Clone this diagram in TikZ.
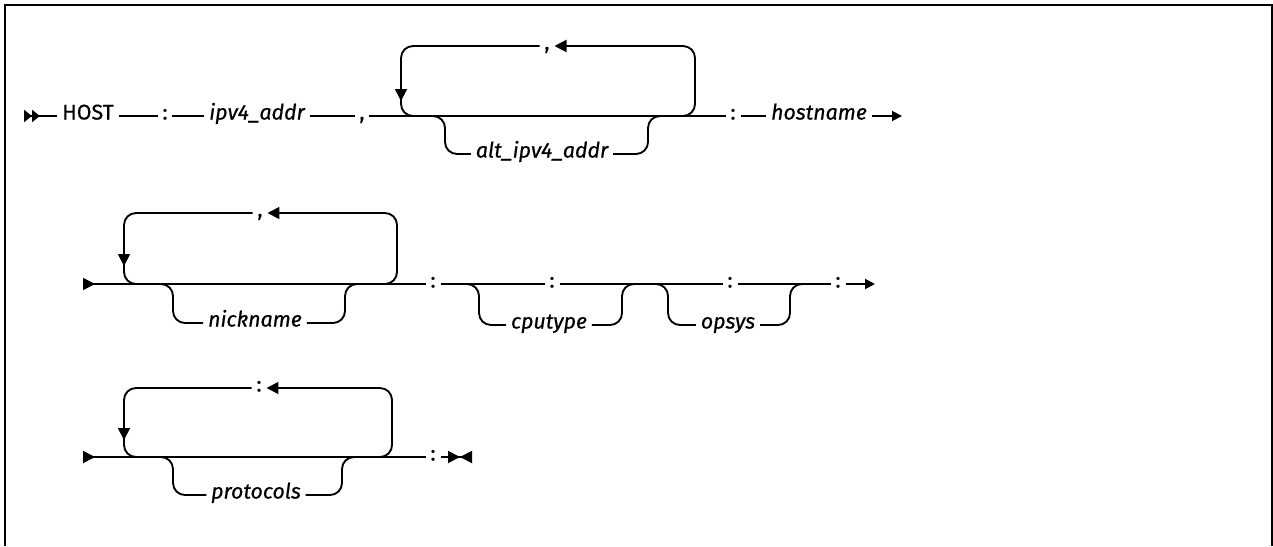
\documentclass[tikz,border=0pt]{standalone}
\usepackage{fontspec}
\setmainfont{Fira Sans}[FakeBold=0.6]
\usetikzlibrary{arrows.meta}

\tikzset{
  rail/.style={line width=1.4pt},
  railtip/.style={-{Triangle[length=9pt,width=9pt]}},
  endtip/.style={-{Triangle[length=7.5pt,width=7.5pt]}},
  lit/.style={anchor=mid, inner xsep=3.5pt, inner ysep=0pt, font=\fontsize{16}{19}\selectfont},
  var/.style={lit, font=\fontsize{16}{19}\selectfont\itshape},
}

\begin{document}
\begin{tikzpicture}[x=0.75pt,y=-0.75pt]
\useasboundingbox (0,0) rectangle (1273,546);
\draw[line width=1.9pt] (5,546) -- (5,5) -- (1272,5) -- (1272,546);

\coordinate (s1) at (24,116);
\node[lit] (host) at (88,116) {HOST};
\node[lit] (c1) at (165,116) {:};
\node[var] (ip) at (257,116) {ipv4\_addr};
\node[lit] (k1) at (362,116) {,};
\node[lit] (k2) at (547,46) {,};
\node[var] (alt) at (542,154) {alt\_ipv4\_addr};
\node[lit] (c2) at (733,116) {:};
\node[var] (hn) at (819,116) {hostname};
\coordinate (e1) at (902,116);

\draw[rail,{Triangle[reversed,length=6pt,width=9pt]Triangle[reversed,length=6pt,width=9pt]}-] (s1) -- (host.mid west);
\draw[rail] (host.mid east) -- (c1.mid west);
\draw[rail] (c1.mid east) -- (ip.mid west);
\draw[rail] (ip.mid east) -- (k1.mid west);
\draw[rail] (k1.mid east) -- (c2.mid west);
\draw[rail,rounded corners=9pt,railtip] (678,116) -| (695,46) -- (k2.mid east);
\draw[rail,rounded corners=9pt,railtip] (k2.mid west) -| (401,101);
\draw[rail,rounded corners=9pt] (401,90) |- (420,116);
\draw[rail,rounded corners=9pt] (430,116) -| (445,154) -- (alt.mid west);
\draw[rail,rounded corners=9pt] (alt.mid east) -| (648,116) -- (663,116);
\draw[rail] (c2.mid east) -- (hn.mid west);
\draw[rail,endtip] (hn.mid east) -- (e1);

\coordinate (s2) at (83,284);
\node[lit] (k3) at (260,213) {,};
\node[var] (nick) at (255,323) {nickname};
\node[lit] (c3) at (433,284) {:};
\node[lit] (c4) at (552,284) {:};
\node[var] (cpu) at (549,325) {cputype};
\node[lit] (c5) at (730,284) {:};
\node[var] (os) at (728,325) {opsys};
\node[lit] (c6) at (838,284) {:};
\coordinate (e2) at (875,284);

\draw[rail,{Triangle[reversed,length=9pt,width=9pt]}-] (s2) -- (c3.mid west);
\draw[rail,rounded corners=9pt,railtip] (383,284) -| (397,213) -- (k3.mid east);
\draw[rail,rounded corners=9pt,railtip] (k3.mid west) -| (124,266);
\draw[rail,rounded corners=9pt] (124,255) |- (142,284);
\draw[rail,rounded corners=9pt] (158,284) -| (173,323) -- (nick.mid west);
\draw[rail,rounded corners=9pt] (nick.mid east) -| (345,284) -- (360,284);
\draw[rail] (c3.mid east) -- (c4.mid west);
\draw[rail] (c4.mid east) -- (c5.mid west);
\draw[rail,rounded corners=9pt] (465,284) -| (479,325) -- (cpu.mid west);
\draw[rail,rounded corners=9pt] (cpu.mid east) -| (622,284) -- (637,284);
\draw[rail,rounded corners=9pt] (655,284) -| (668,325) -- (os.mid west);
\draw[rail,rounded corners=9pt] (os.mid east) -| (790,284) -- (805,284);
\draw[rail] (c5.mid east) -- (c6.mid west);
\draw[rail,endtip] (c6.mid east) -- (e2);

\coordinate (s3) at (83,457);
\node[lit] (c7) at (259,388) {:};
\node[var] (proto) at (256,495) {protocols};
\node[lit] (c8) at (433,457) {:};
\coordinate (e3) at (472,457);

\draw[rail,{Triangle[reversed,length=9pt,width=9pt]}-] (s3) -- (c8.mid west);
\draw[rail,rounded corners=9pt,railtip] (378,457) -| (392,388) -- (c7.mid east);
\draw[rail,rounded corners=9pt,railtip] (c7.mid west) -| (124,440);
\draw[rail,rounded corners=9pt] (124,430) |- (142,457);
\draw[rail,rounded corners=9pt] (158,457) -| (173,495) -- (proto.mid west);
\draw[rail,rounded corners=9pt] (proto.mid east) -| (342,457) -- (357,457);
\draw[rail,-{Triangle[length=9pt,width=9pt]Triangle[reversed,length=9pt,width=9pt]}] (c8.mid east) -- (e3);
\end{tikzpicture}
\end{document}
